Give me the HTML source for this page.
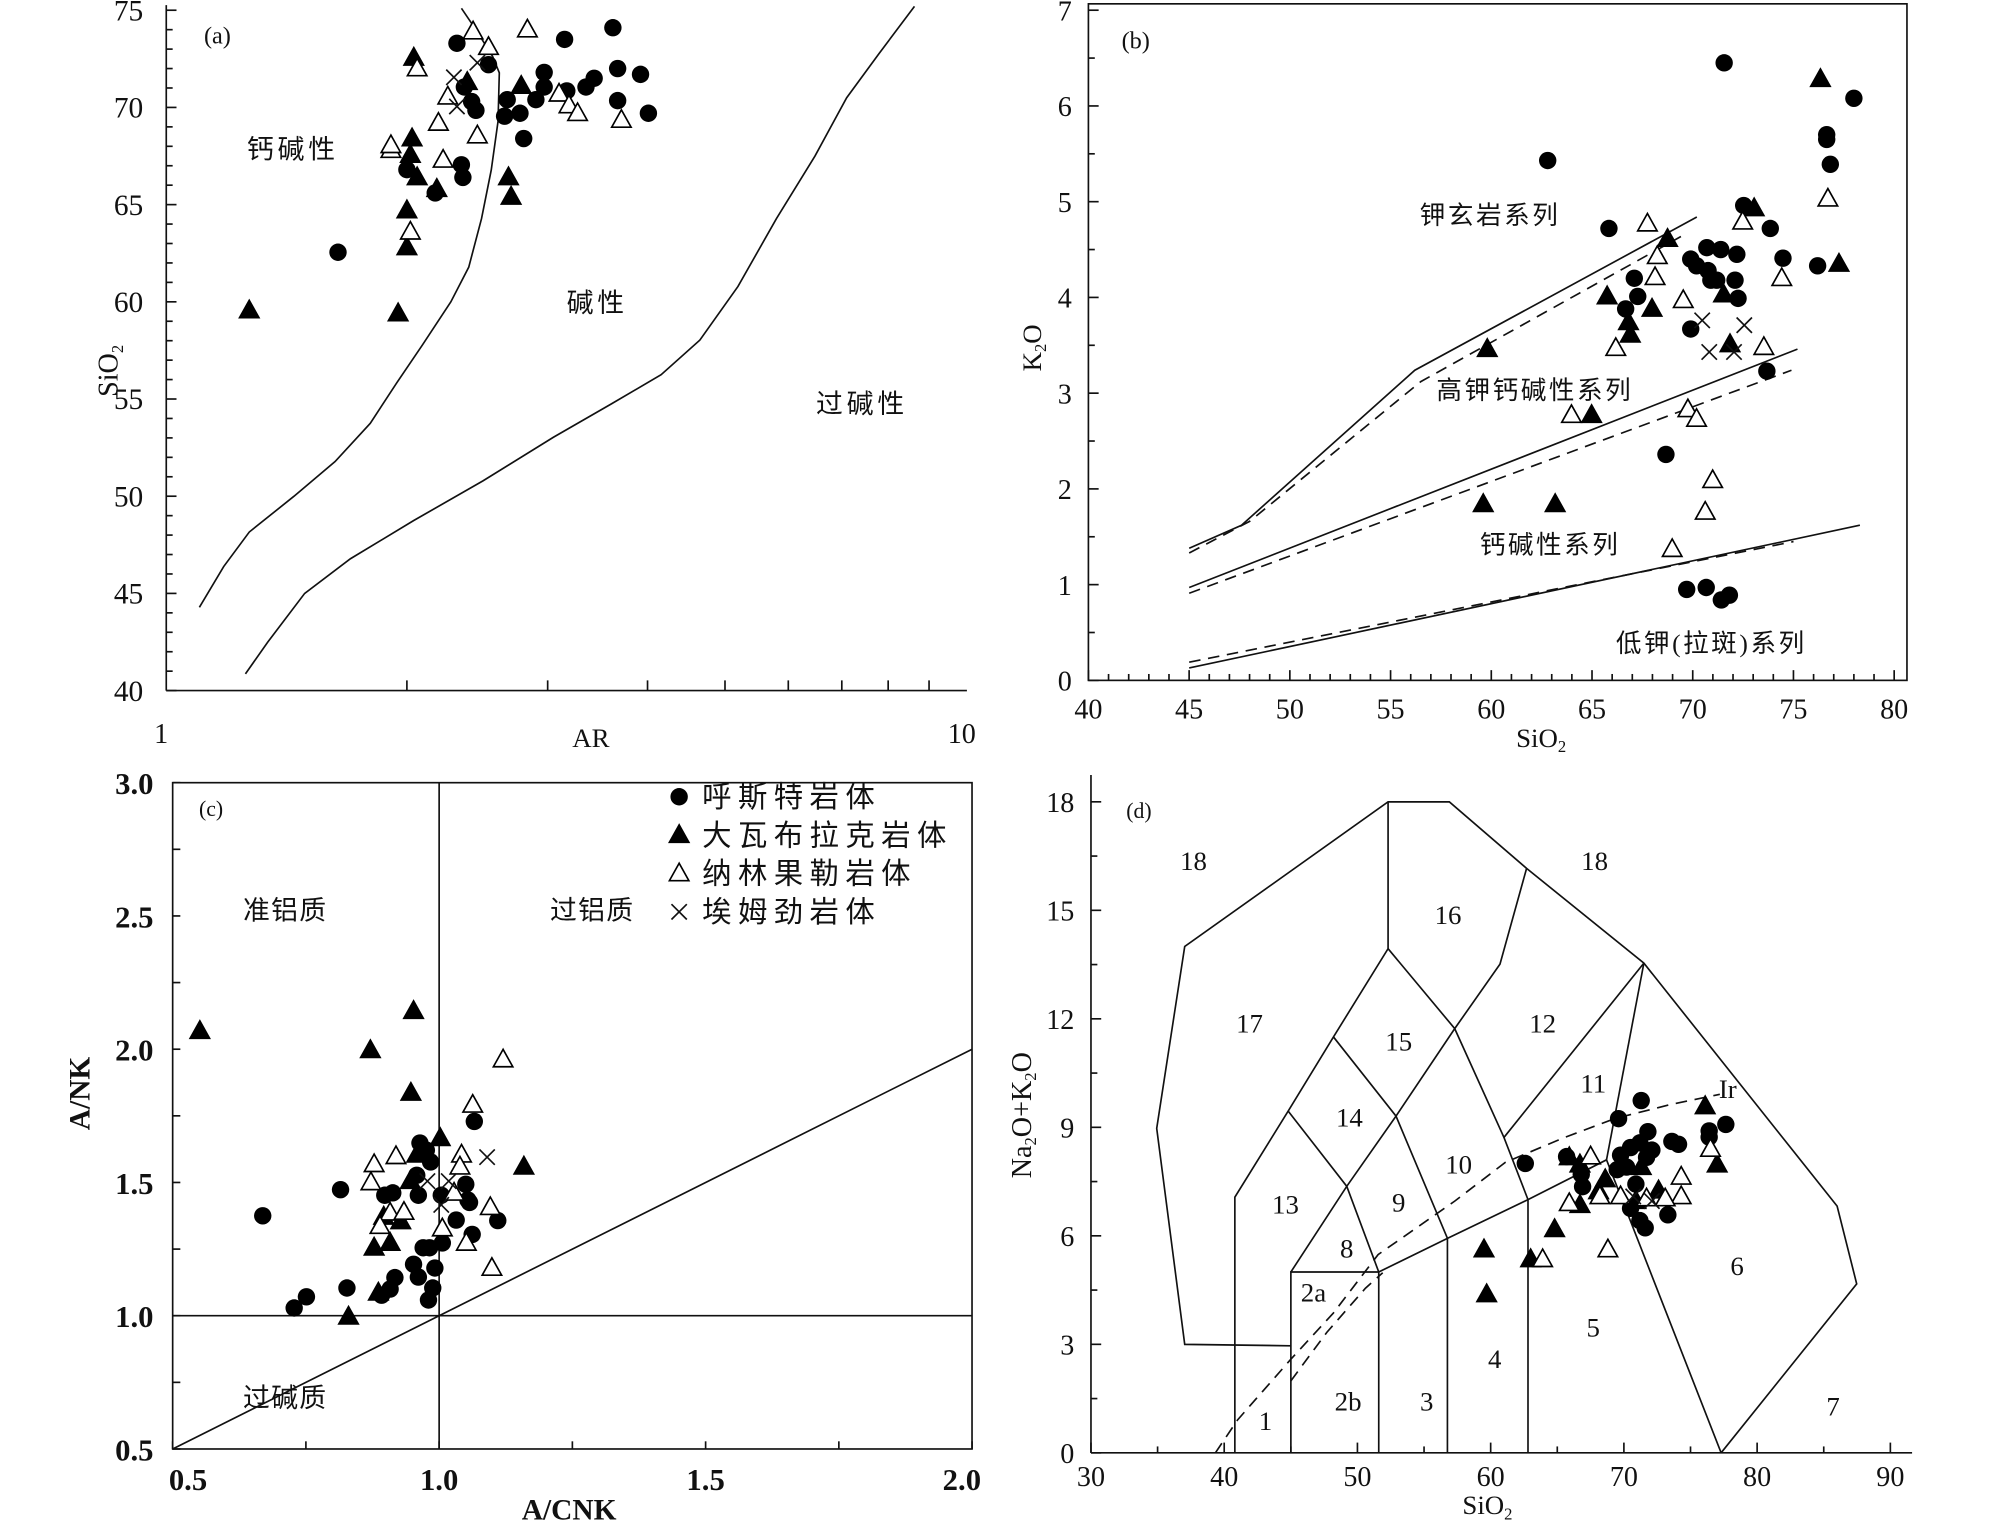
<!DOCTYPE html>
<html><head><meta charset="utf-8">
<style>
html,body{margin:0;padding:0;background:#fff;}
svg{display:block;}
text{font-family:"Liberation Serif","Noto Serif CJK SC","Noto Sans CJK SC",serif;fill:#111;}
.cn{font-family:"Liberation Serif","Noto Sans CJK SC",sans-serif;}
</style></head>
<body>
<svg id="fig" width="2008" height="1527" viewBox="0 0 1570 1194" preserveAspectRatio="none" xmlns="http://www.w3.org/2000/svg">
<g id="pa"></g>
<g id="pb"></g>
<g id="pc"></g>
<g id="pd"></g>
</svg>
<script>
// ===== Panel (a) data: AR vs SiO2 =====
const aCircAR=[1.64,2.31,2.36,2.41,2.44,2.34,2.35,2.53,2.67,2.65,2.77,2.80,2.90,2.97,2.97,3.17,3.15,3.35,3.43,3.62,3.67,3.67,3.92,4.01,2.00,2.17];
const aCircSi=[62.55,73.3,71.05,70.3,69.85,67.05,66.4,72.2,70.4,69.55,69.7,68.4,70.4,71.8,71.05,70.85,73.5,71.05,71.5,74.1,72.0,70.35,71.7,69.7,66.8,65.6];
const aFtriAR=[1.27,1.95,2.00,2.00,2.04,2.03,2.02,2.06,2.18,2.38,2.68,2.70,2.78];
const aFtriSi=[59.55,59.4,62.8,64.7,72.55,68.4,67.55,66.4,65.8,71.3,66.4,65.4,71.1];
const aOtriAR=[2.42,2.53,2.83,2.06,2.25,2.19,1.91,1.91,2.22,2.02,2.45,3.10,3.19,3.27,3.71];
const aOtriSi=[73.9,73.1,74.0,72.0,70.55,69.2,67.8,68.05,67.3,63.6,68.55,70.7,70.1,69.7,69.35];
const aCrosAR=[2.29,2.31,2.45];
const aCrosSi=[71.55,70.05,72.3];
const aCurve1AR=[1.10,1.18,1.27,1.445,1.626,1.80,1.94,2.09,2.27,2.39,2.48,2.55,2.60,2.61,2.56,2.44,2.34];
const aCurve1Si=[44.28,46.38,48.16,50.0,51.78,53.75,55.8,57.76,60.0,61.78,64.28,66.78,69.28,71.78,72.63,74.0,75.1];
const aCurve2AR=[1.256,1.34,1.49,1.70,2.04,2.49,3.05,3.60,4.16,4.65,5.19,5.80,6.48,7.10,7.79,8.63];
const aCurve2Si=[40.86,42.5,45.0,46.78,48.75,50.79,53.03,54.74,56.25,58.03,60.79,64.28,67.5,70.5,72.76,75.2];
const aYTicks=[40,45,50,55,60,65,70,75];

// ===== Panel (b) data: SiO2 vs K2O =====
const bCircSi=[71.56,62.8,65.84,78.0,76.65,76.65,76.83,72.53,73.85,74.48,76.2,67.1,67.27,66.67,69.9,70.19,70.7,71.39,72.19,70.76,70.9,71.19,72.1,72.25,69.9,73.68,68.67,69.7,70.67,71.42,71.82];
const bCircK=[6.45,5.43,4.72,6.08,5.70,5.65,5.39,4.96,4.72,4.41,4.33,4.20,4.01,3.88,4.40,4.33,4.52,4.50,4.45,4.28,4.18,4.18,4.18,3.99,3.67,3.23,2.36,0.95,0.97,0.84,0.89];
const bFtriSi=[76.34,73.05,68.75,77.26,65.75,67.98,66.81,66.9,71.53,71.85,59.8,64.98,59.6,63.17];
const bFtriK=[6.28,4.93,4.61,4.35,4.01,3.88,3.74,3.61,4.03,3.51,3.46,2.77,1.84,1.84];
const bOtriSi=[67.75,72.48,76.71,68.24,68.13,74.42,69.53,66.18,73.53,63.98,69.76,70.19,70.99,70.62,68.98];
const bOtriK=[4.77,4.79,5.03,4.43,4.21,4.20,3.97,3.47,3.48,2.77,2.83,2.73,2.09,1.76,1.37];
const bCrosSi=[70.47,72.56,70.82,72.05];
const bCrosK=[3.76,3.71,3.43,3.43];
const bLine1Si=[45,47.6,56.2,70.2], bLine1K=[1.38,1.62,3.24,4.84];
const bDash1Si=[45,48.0,56.5,69.7], bDash1K=[1.33,1.66,3.12,4.67];
const bLine2Si=[45,75.2], bLine2K=[0.97,3.46];
const bDash2Si=[45,74.9], bDash2K=[0.91,3.24];
const bLine3Si=[45,78.3], bLine3K=[0.13,1.62];
const bDash3Si=[45,75.0], bDash3K=[0.19,1.45];
const bXTicks=[40,45,50,55,60,65,70,75,80];
const bYTicks=[0,1,2,3,4,5,6,7];

// ===== Panel (c) data: A/CNK vs A/NK =====
const cCircX=[0.669,0.815,0.728,0.751,0.827,0.892,0.908,0.917,0.952,0.961,0.980,0.988,0.992,0.970,0.982,1.006,1.032,1.062,1.110,1.066,0.964,0.976,0.984,0.958,0.961,0.898,0.913,1.004,1.050,1.054,1.057];
const cCircY=[1.375,1.473,1.029,1.071,1.104,1.077,1.10,1.143,1.193,1.145,1.059,1.104,1.179,1.255,1.255,1.273,1.359,1.305,1.357,1.729,1.648,1.621,1.577,1.527,1.452,1.452,1.461,1.452,1.493,1.434,1.425];
const cFtriX=[0.551,0.952,0.871,0.947,1.002,1.159,0.946,0.958,0.896,0.928,0.908,0.878,0.886,0.830];
const cFtriY=[2.068,2.143,1.996,1.836,1.666,1.559,1.505,1.604,1.371,1.354,1.273,1.255,1.086,0.996];
const cOtriX=[1.120,1.063,0.878,0.919,0.872,0.908,0.934,0.889,1.042,1.039,1.028,1.006,1.051,1.096,1.099];
const cOtriY=[1.961,1.791,1.568,1.598,1.50,1.386,1.389,1.336,1.604,1.559,1.461,1.327,1.273,1.407,1.179];
const cCrosX=[1.090,1.018,1.004,0.978];
const cCrosY=[1.595,1.505,1.416,1.505];
const cXTicks=["0.5","1.0","1.5","2.0"];
const cYTicks=["0.5","1.0","1.5","2.0","2.5","3.0"];
const cLegend=["呼斯特岩体","大瓦布拉克岩体","纳林果勒岩体","埃姆劲岩体"];

// ===== Panel (d) data: TAS =====
const dCircSi=[71.3,69.6,77.65,76.4,76.4,71.8,73.6,74.1,62.6,65.7,69.75,70.5,71.2,72.1,69.5,70.2,66.8,66.9,70.5,71.2,71.6,73.3,70.9,71.7];
const dCircT=[9.74,9.24,9.08,8.9,8.73,8.88,8.61,8.53,8.0,8.19,8.23,8.44,8.57,8.37,7.83,7.9,7.7,7.36,6.76,6.42,6.22,6.58,7.43,8.17];
const dFtriSi=[76.1,77.0,65.9,66.7,71.3,68.6,68.1,66.7,72.6,70.9,64.8,59.5,63.0,59.7];
const dFtriT=[9.58,7.97,8.17,7.97,7.9,7.56,7.23,6.85,7.25,6.96,6.18,5.62,5.35,4.38];
const dOtriSi=[67.5,76.5,74.3,74.3,65.9,68.2,69.75,73.1,71.7,63.9,68.8];
const dOtriT=[8.19,8.4,7.63,7.09,6.9,7.09,7.09,7.03,7.03,5.35,5.62];
const dCrosSi=[70.7,72.1];
const dCrosT=[7.09,6.96];
const dXTicks=[30,40,50,60,70,80,90];
const dYTicks=[0,3,6,9,12,15,18];
const dFieldLines=[
 [[40.8,0],[40.8,7.07],[44.8,9.45],[48.2,11.5],[52.3,13.94],[52.3,18]],
 [[45,0],[45,5],[51.6,5],[51.6,0]],
 [[45,5],[49.2,7.37],[52.9,9.31],[57.3,11.73],[60.7,13.51],[62.7,16.16]],
 [[44.8,9.45],[49.2,7.37],[51.6,5]],
 [[48.2,11.5],[52.9,9.31],[56.75,5.93],[56.75,0]],
 [[52.3,13.94],[57.3,11.73],[61,8.72],[62.8,7.0],[62.8,0]],
 [[51.6,5],[56.75,5.93],[62.8,7.0],[68.7,8.1],[77.3,0]],
 [[61,8.72],[71.5,13.54]],
 [[68.7,8.1],[71.5,13.54]],
 [[45,2.96],[37.04,3.0],[34.93,8.97],[37.04,14.0],[52.3,18],[56.9,18],[62.7,16.16],[71.5,13.54],[86.0,6.82],[87.47,4.67],[77.3,0]]
];
const dDashLines=[
 [[39.34,0],[41.0,0.91],[45.0,2.59],[48.2,3.87],[51.55,5.48],[57.3,6.96],[61.1,8.03],[65.4,8.7],[69.3,9.24],[73.6,9.64],[77.2,9.91]],
 [[45.0,1.99],[47.7,3.33],[50.6,4.55],[51.9,4.98]]
];
const dFieldLabels=["18","18","16","17","15","12","14","11","Ir","10","13","9","8","2a","6","5","4","2b","3","1","7"];
const dFieldLabelSi=[37.7,67.8,56.8,41.9,53.1,63.9,49.4,67.7,77.8,57.6,44.6,53.1,49.2,46.7,78.5,67.7,60.3,49.3,55.2,43.1,85.7];
const dFieldLabelT=[16.4,16.4,14.9,11.9,11.4,11.9,9.3,10.25,10.1,8.0,6.9,6.96,5.68,4.47,5.2,3.5,2.63,1.45,1.45,0.91,1.32];

// ===== helpers =====
const NS="http://www.w3.org/2000/svg";
function mk(parent,tag,attrs){const e=document.createElementNS(NS,tag);for(const k in attrs)e.setAttribute(k,attrs[k]);parent.appendChild(e);return e;}
function txt(parent,x,y,s,size,anchor,cls){const t=mk(parent,'text',{x:x,y:y,'font-size':size,'text-anchor':anchor||'middle'});if(cls)t.setAttribute('class',cls);t.textContent=s;return t;}
function line(p,x1,y1,x2,y2,extra){const l=mk(p,'line',{x1:x1,y1:y1,x2:x2,y2:y2,stroke:'#111','stroke-width':1.3});if(extra)for(const k in extra)l.setAttribute(k,extra[k]);return l;}
function circ(p,x,y){const c=mk(p,'circle',{cx:x,cy:y,r:6.8,fill:'#000'});return c;}
function tri(p,x,y,filled){const s=8;const t=mk(p,'polygon',{points:`${x},${y-s} ${x-s*0.95},${y+s*0.7} ${x+s*0.95},${y+s*0.7}`,fill:filled?'#000':'#fff',stroke:'#000','stroke-width':1.3});return t;}
function cross(p,x,y){const g=mk(p,'g',{});line(g,x-6,y-6,x+6,y+6);line(g,x-6,y+6,x+6,y-6);return g;}
function polyl(p,pts,dash){const e=mk(p,'polyline',{points:pts.map(q=>q[0].toFixed(1)+','+q[1].toFixed(1)).join(' '),fill:'none',stroke:'#111','stroke-width':1.3});if(dash)e.setAttribute('stroke-dasharray','9,6');return e;}
function plotSet(g,X,Y,fx,fy,kind,name){
  for(let i=0;i<X.length;i++){
    const x=fx(X[i]),y=fy(Y[i]);let e;
    if(kind==='c')e=circ(g,x,y);else if(kind==='f')e=tri(g,x,y,true);else if(kind==='o')e=tri(g,x,y,false);else e=cross(g,x,y);
    
    
  }
}

// ===== Panel a =====
(function(){
 const g=document.getElementById('pa');
 const ax=v=>130+625*Math.log10(v), ay=v=>540-(v-40)*15.2;
 const axes=mk(g,'g',{});
 
 
 line(axes,130,4,130,540); line(axes,130,540,756,540);
 for(let v=40;v<=75;v++){line(axes,130,ay(v),v%5===0?138:135,ay(v));}
 for(let k=2;k<=9;k++){line(axes,ax(k),540,ax(k),532);}
 aYTicks.forEach(v=>{const t=txt(g,112,ay(v)+8,String(v),23,'end');});
 let t=txt(g,126,581,'1',22);
 t=txt(g,752,581,'10',22);
 t=txt(g,462,584,'AR',21);
 t=mk(g,'text',{x:0,y:0,'font-size':22,'text-anchor':'middle',transform:'translate(92,290) rotate(-90)'});t.innerHTML='SiO<tspan font-size="13" dy="4">2</tspan>';
 
 t=txt(g,170,34,'(a)',19);
 t=txt(g,229,124,'钙碱性',21,'middle','cn');t.setAttribute('letter-spacing','3');
 t=txt(g,467,244,'碱性',21,'middle','cn');t.setAttribute('letter-spacing','3');
 t=txt(g,674,323,'过碱性',21,'middle','cn');t.setAttribute('letter-spacing','3');
 let c=polyl(g,aCurve1AR.map((v,i)=>[ax(v),ay(aCurve1Si[i])]));
 c=polyl(g,aCurve2AR.map((v,i)=>[ax(v),ay(aCurve2Si[i])]));
 plotSet(g,aCircAR,aCircSi,ax,ay,'c','point-husite');
 plotSet(g,aFtriAR,aFtriSi,ax,ay,'f','point-dawabulake');
 plotSet(g,aOtriAR,aOtriSi,ax,ay,'o','point-nalinguole');
 plotSet(g,aCrosAR,aCrosSi,ax,ay,'x','point-aimujin');
})();

// ===== Panel b =====
(function(){
 const g=document.getElementById('pb');
 const bx=v=>851+(v-40)*15.75, by=v=>532-v*74.86;
 const axes=mk(g,'g',{});
 
 
 mk(axes,'rect',{x:851,y:3,width:640,height:529,fill:'none',stroke:'#111','stroke-width':1.3});
 for(let v=40;v<=80;v++){line(axes,bx(v),532,bx(v),v%5===0?524:527);}
 for(let v=0;v<=7;v+=0.5){line(axes,851,by(v),v%1===0?859:856,by(v));}
 bXTicks.forEach(v=>{const t=txt(g,bx(v),562,String(v),22);});
 bYTicks.forEach(v=>{const t=txt(g,838,by(v)+8,String(v),22,'end');});
 let t=mk(g,'text',{x:1205,y:584,'font-size':21,'text-anchor':'middle'});t.innerHTML='SiO<tspan font-size="13" dy="4">2</tspan>';
 
 t=mk(g,'text',{x:0,y:0,'font-size':21,'text-anchor':'middle',transform:'translate(814,272) rotate(-90)'});t.innerHTML='K<tspan font-size="13" dy="4">2</tspan><tspan dy="-4">O</tspan>';
 
 t=txt(g,888,38,'(b)',19);
 const labs=[['钾玄岩系列',1165,175,'region-shoshonite'],['高钾钙碱性系列',1200,312,'region-high-k-calc-alkaline'],['钙碱性系列',1212,433,'region-calc-alkaline'],['低钾(拉斑)系列',1338,510,'region-low-k-tholeiite']];
 labs.forEach(l=>{const e=txt(g,l[1],l[2],l[0],20,'middle','cn');e.setAttribute('letter-spacing','2');});
 const sets=[[bLine1Si,bLine1K,0,'boundary-shoshonite'],[bDash1Si,bDash1K,1,'boundary-shoshonite-dashed'],[bLine2Si,bLine2K,0,'boundary-high-k'],[bDash2Si,bDash2K,1,'boundary-high-k-dashed'],[bLine3Si,bLine3K,0,'boundary-low-k'],[bDash3Si,bDash3K,1,'boundary-low-k-dashed']];
 sets.forEach(s=>{const e=polyl(g,s[0].map((v,i)=>[bx(v),by(s[1][i])]),s[2]);});
 plotSet(g,bCircSi,bCircK,bx,by,'c','point-husite');
 plotSet(g,bFtriSi,bFtriK,bx,by,'f','point-dawabulake');
 plotSet(g,bOtriSi,bOtriK,bx,by,'o','point-nalinguole');
 plotSet(g,bCrosSi,bCrosK,bx,by,'x','point-aimujin');
})();

// ===== Panel c =====
(function(){
 const g=document.getElementById('pc');
 const cx=v=>135+(v-0.5)*416.7, cy=v=>1133-(v-0.5)*208.4;
 const axes=mk(g,'g',{});
 
 
 mk(axes,'rect',{x:135,y:612,width:625,height:521,fill:'none',stroke:'#111','stroke-width':1.3});
 for(let v=0.5;v<=3.0001;v+=0.25){line(axes,135,cy(v),141,cy(v));}
 for(let v=0.5;v<=2.0001;v+=0.25){line(axes,cx(v),1133,cx(v),1127);}
 let e=line(g,cx(1.0),612,cx(1.0),1133);
 e=line(g,135,cy(1.0),760,cy(1.0));
 e=line(g,cx(0.5),cy(0.5),cx(2.0),cy(2.0));
 cXTicks.forEach(s=>{const t=txt(g,cx(parseFloat(s))+(s==='0.5'?12:0)-(s==='2.0'?8:0),1165,s,24);t.setAttribute('font-weight','bold');});
 cYTicks.forEach(s=>{const t=txt(g,120,cy(parseFloat(s))+9,s,24,'end');t.setAttribute('font-weight','bold');});
 let t=txt(g,445,1188,'A/CNK',23);t.setAttribute('font-weight','bold');
 t=mk(g,'text',{x:0,y:0,'font-size':23,'font-weight':'bold','text-anchor':'middle',transform:'translate(70,855) rotate(-90)'});t.textContent='A/NK';
 
 t=txt(g,165,638,'(c)',17);
 const labs=[['准铝质',223,719,'region-metaluminous'],['过铝质',463,719,'region-peraluminous'],['过碱质',223,1100,'region-peralkaline']];
 labs.forEach(l=>{const e2=txt(g,l[1],l[2],l[0],21,'middle','cn');e2.setAttribute('letter-spacing','1');});
 plotSet(g,cCircX,cCircY,cx,cy,'c','point-husite');
 plotSet(g,cFtriX,cFtriY,cx,cy,'f','point-dawabulake');
 plotSet(g,cOtriX,cOtriY,cx,cy,'o','point-nalinguole');
 plotSet(g,cCrosX,cCrosY,cx,cy,'x','point-aimujin');
 // legend
 const lg=mk(g,'g',{});
 
 
 const kinds=['c','f','o','x'];
 cLegend.forEach((s,i)=>{
   const y=623+i*30;
   const row=mk(lg,'g',{});
   
   
   const k=kinds[i];
   if(k==='c')circ(row,531,y);else if(k==='f')tri(row,531,y,true);else if(k==='o')tri(row,531,y,false);else cross(row,531,y);
   const tt=txt(row,549,y+8,s,23,'start','cn');tt.setAttribute('letter-spacing','5');
 });
})();

// ===== Panel d =====
(function(){
 const g=document.getElementById('pd');
 const dx=v=>853+(v-30)*10.417, dy=v=>1136-v*28.28;
 const axes=mk(g,'g',{});
 
 
 line(axes,853,606,853,1136); line(axes,853,1136,1495,1136);
 for(let v=0;v<=18;v+=1.5){line(axes,853,dy(v),v%3===0?861:858,dy(v));}
 for(let v=30;v<=90;v+=5){line(axes,dx(v),1136,dx(v),v%10===0?1128:1131);}
 dXTicks.forEach(v=>{const t=txt(g,dx(v),1162,String(v),22);});
 dYTicks.forEach(v=>{const t=txt(g,840,dy(v)+8,String(v),22,'end');});
 let t=mk(g,'text',{x:1163,y:1184,'font-size':21,'text-anchor':'middle'});t.innerHTML='SiO<tspan font-size="13" dy="4">2</tspan>';
 
 t=mk(g,'text',{x:0,y:0,'font-size':22,'text-anchor':'middle',transform:'translate(806,872) rotate(-90)'});t.innerHTML='Na<tspan font-size="13" dy="4">2</tspan><tspan dy="-4">O+K</tspan><tspan font-size="13" dy="4">2</tspan><tspan dy="-4">O</tspan>';
 
 t=txt(g,dx(33.6),dy(17.8)+7,'(d)',17);
 dFieldLines.forEach(L=>{const e=polyl(g,L.map(q=>[dx(q[0]),dy(q[1])]));});
 dDashLines.forEach(L=>{const e=polyl(g,L.map(q=>[dx(q[0]),dy(q[1])]),true);});
 dFieldLabels.forEach((s,i)=>{const e=txt(g,dx(dFieldLabelSi[i]),dy(dFieldLabelT[i])+8,s,21);});
 plotSet(g,dCircSi,dCircT,dx,dy,'c','point-husite');
 plotSet(g,dFtriSi,dFtriT,dx,dy,'f','point-dawabulake');
 plotSet(g,dOtriSi,dOtriT,dx,dy,'o','point-nalinguole');
 plotSet(g,dCrosSi,dCrosT,dx,dy,'x','point-aimujin');
})();
</script>
</body></html>
